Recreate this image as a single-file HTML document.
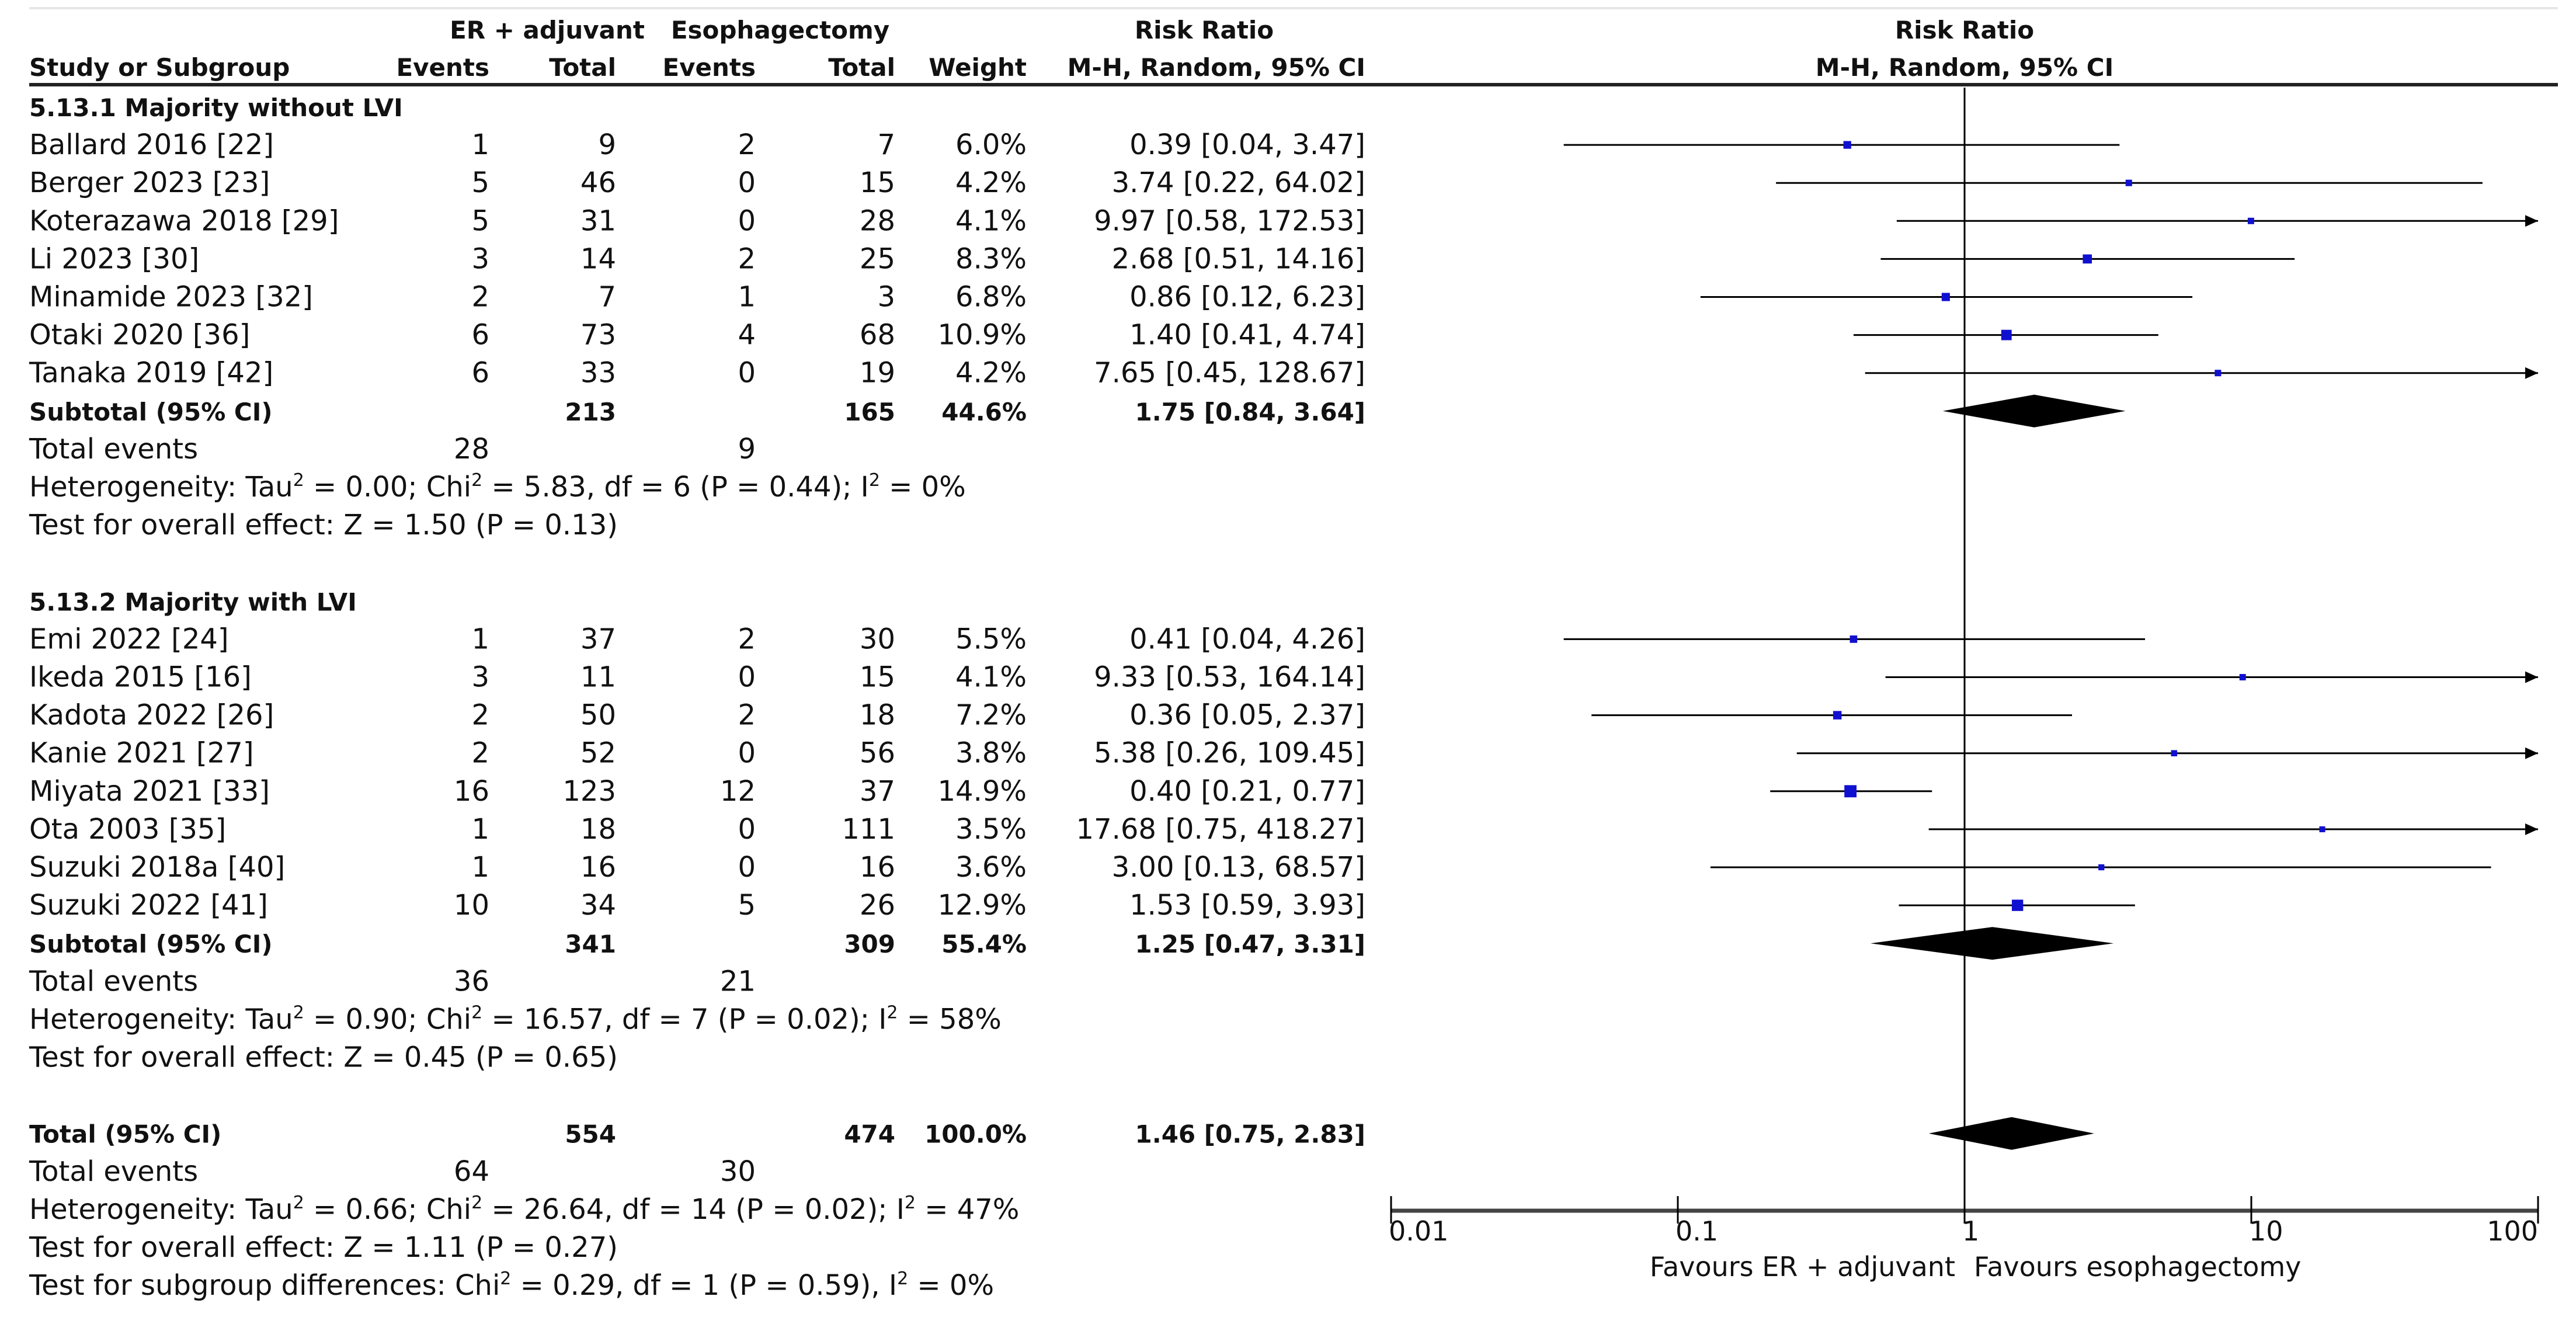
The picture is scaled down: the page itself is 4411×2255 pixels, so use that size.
<!DOCTYPE html>
<html><head><meta charset="utf-8"><style>
html,body{margin:0;padding:0;background:#fff;}
svg{display:block;font-family:"DejaVu Sans","Liberation Sans",sans-serif;}
</style></head><body>
<svg id="chart" width="4411" height="2255" viewBox="0 0 4411 2255" xmlns="http://www.w3.org/2000/svg">
<rect width="4411" height="2255" fill="#fff"/>
<line x1="50" y1="14" x2="4380" y2="14" stroke="#e6e6e6" stroke-width="4"/>
<g font-size="42" font-weight="bold" fill="#111">
<text x="937" y="66" text-anchor="middle">ER + adjuvant</text>
<text x="1336" y="66" text-anchor="middle">Esophagectomy</text>
<text x="2062" y="66" text-anchor="middle">Risk Ratio</text>
<text x="3364" y="66" text-anchor="middle">Risk Ratio</text>
<text x="50" y="130">Study or Subgroup</text>
<text x="838" y="130" text-anchor="end">Events</text>
<text x="1055" y="130" text-anchor="end">Total</text>
<text x="1294" y="130" text-anchor="end">Events</text>
<text x="1533" y="130" text-anchor="end">Total</text>
<text x="1758" y="130" text-anchor="end">Weight</text>
<text x="2338" y="130" text-anchor="end">M-H, Random, 95% CI</text>
<text x="3364" y="130" text-anchor="middle">M-H, Random, 95% CI</text>
</g>
<line x1="50" y1="145" x2="4380" y2="145" stroke="#222" stroke-width="6"/>
<g id="rows"></g>
<g id="plot"></g>
</svg>
<script>
const names1 = ["Ballard 2016 [22]","Berger 2023 [23]","Koterazawa 2018 [29]","Li 2023 [30]","Minamide 2023 [32]","Otaki 2020 [36]","Tanaka 2019 [42]"];
const ev1a = [1,5,5,3,2,6,6];
const tot1a = [9,46,31,14,7,73,33];
const ev2a = [2,0,0,2,1,4,0];
const tot2a = [7,15,28,25,3,68,19];
const wt1 = [6.0,4.2,4.1,8.3,6.8,10.9,4.2];
const rr1 = [0.39,3.74,9.97,2.68,0.86,1.40,7.65];
const lo1 = [0.04,0.22,0.58,0.51,0.12,0.41,0.45];
const hi1 = [3.47,64.02,172.53,14.16,6.23,4.74,128.67];

const names2 = ["Emi 2022 [24]","Ikeda 2015 [16]","Kadota 2022 [26]","Kanie 2021 [27]","Miyata 2021 [33]","Ota 2003 [35]","Suzuki 2018a [40]","Suzuki 2022 [41]"];
const ev1b = [1,3,2,2,16,1,1,10];
const tot1b = [37,11,50,52,123,18,16,34];
const ev2b = [2,0,2,0,12,0,0,5];
const tot2b = [30,15,18,56,37,111,16,26];
const wt2 = [5.5,4.1,7.2,3.8,14.9,3.5,3.6,12.9];
const rr2 = [0.41,9.33,0.36,5.38,0.40,17.68,3.00,1.53];
const lo2 = [0.04,0.53,0.05,0.26,0.21,0.75,0.13,0.59];
const hi2 = [4.26,164.14,2.37,109.45,0.77,418.27,68.57,3.93];

const subTot = [[213,165,44.6,1.75,0.84,3.64],[341,309,55.4,1.25,0.47,3.31]];
const overall = [554,474,100.0,1.46,0.75,2.83];
const totEvents = [[28,9],[36,21],[64,30]];
const hetText = [
 ["Heterogeneity: Tau","2"," = 0.00; Chi","2"," = 5.83, df = 6 (P = 0.44); I","2"," = 0%"],
 ["Heterogeneity: Tau","2"," = 0.90; Chi","2"," = 16.57, df = 7 (P = 0.02); I","2"," = 58%"],
 ["Heterogeneity: Tau","2"," = 0.66; Chi","2"," = 26.64, df = 14 (P = 0.02); I","2"," = 47%"]];
const testText = ["Test for overall effect: Z = 1.50 (P = 0.13)","Test for overall effect: Z = 0.45 (P = 0.65)","Test for overall effect: Z = 1.11 (P = 0.27)"];
const subgroupDiff = ["Test for subgroup differences: Chi","2"," = 0.29, df = 1 (P = 0.59), I","2"," = 0%"];
const groupTitles = ["5.13.1 Majority without LVI","5.13.2 Majority with LVI"];
const tickVals = [0.01,0.1,1,10,100];
const tickLabels = ["0.01","0.1","1","10","100"];

const NS="http://www.w3.org/2000/svg";
const rows=document.getElementById('rows'), plot=document.getElementById('plot');
const X0=3364, DEC=491, XMIN=0.01, XMAX=100;
function xs(v){return X0+Math.log10(v)*DEC;}
function ys(i){return 183+i*65.1;}
const cols=[838,1055,1294,1533,1758,2338];
function mk(tag,attrs,parent){const e=document.createElementNS(NS,tag);for(const k in attrs)e.setAttribute(k,attrs[k]);(parent||rows).appendChild(e);return e;}
function txt(x,y,s,anchor,bold,name){const t=mk('text',{x:x,y:y+16,'font-size':bold?42:48,fill:'#111','text-anchor':anchor||'start','font-weight':bold?'bold':'normal'});t.textContent=s;


return t;}
function supText(x,y,parts,name){const t=mk('text',{x:x,y:y+16,'font-size':48,fill:'#111'});


parts.forEach((p,k)=>{const s=document.createElementNS(NS,'tspan');s.textContent=p;if(k%2==1){s.setAttribute('font-size','30');s.setAttribute('dy','-18');}else if(k>0){s.setAttribute('dy','18');}t.appendChild(s);});}
function study(i,name,e1,t1,e2,t2,w,rr,lo,hi){
 const y=ys(i);
 txt(50,y,name,'start',false,'study-name');
 txt(cols[0],y,String(e1),'end',false,'events-er');
 txt(cols[1],y,String(t1),'end',false,'total-er');
 txt(cols[2],y,String(e2),'end',false,'events-esoph');
 txt(cols[3],y,String(t2),'end',false,'total-esoph');
 txt(cols[4],y,w.toFixed(1)+'%','end',false,'weight');
 txt(cols[5],y,rr.toFixed(2)+' ['+lo.toFixed(2)+', '+hi.toFixed(2)+']','end',false,'risk-ratio-ci');
 const x1=xs(Math.max(lo,XMIN)), x2=xs(Math.min(hi,XMAX));
 const l=mk('line',{x1:x1,y1:y,x2:x2,y2:y,stroke:'#000','stroke-width':3},plot);
 
 
 if(hi>XMAX){const a=mk('polygon',{points:(x2)+','+y+' '+(x2-22)+','+(y-10)+' '+(x2-22)+','+(y+10),fill:'#000'},plot);
 
 }
 const s=5.4*Math.sqrt(w);
 const r=mk('rect',{x:xs(rr)-s/2,y:y-s/2,width:s,height:s,fill:'#1010d0'},plot);
 
 
}
function diamond(y,rr,lo,hi){const h=28;const p=mk('polygon',{points:xs(lo)+','+y+' '+xs(rr)+','+(y-h)+' '+xs(hi)+','+y+' '+xs(rr)+','+(y+h),fill:'#000'},plot);

}
function summary(i,label,d){const y=ys(i);
 txt(50,y,label,'start',true,'subtotal-label');
 txt(cols[1],y,String(d[0]),'end',true,'subtotal-total-er');
 txt(cols[3],y,String(d[1]),'end',true,'subtotal-total-esoph');
 txt(cols[4],y,d[2].toFixed(1)+'%','end',true,'subtotal-weight');
 txt(cols[5],y,d[3].toFixed(2)+' ['+d[4].toFixed(2)+', '+d[5].toFixed(2)+']','end',true,'subtotal-ci');
 diamond(y,d[3],d[4],d[5]);}
function footer(i,g){txt(50,ys(i),'Total events','start',false,'total-events-label');
 txt(cols[0],ys(i),String(totEvents[g][0]),'end',false,'total-events-er');
 txt(cols[2],ys(i),String(totEvents[g][1]),'end',false,'total-events-esoph');
 supText(50,ys(i+1),hetText[g],'heterogeneity');
 txt(50,ys(i+2),testText[g],'start',false,'overall-effect-test');}

txt(50,ys(0),groupTitles[0],'start',true,'subgroup-title');
names1.forEach((n,k)=>study(1+k,n,ev1a[k],tot1a[k],ev2a[k],tot2a[k],wt1[k],rr1[k],lo1[k],hi1[k]));
summary(8,'Subtotal (95% CI)',subTot[0]); footer(9,0);
txt(50,ys(13),groupTitles[1],'start',true,'subgroup-title');
names2.forEach((n,k)=>study(14+k,n,ev1b[k],tot1b[k],ev2b[k],tot2b[k],wt2[k],rr2[k],lo2[k],hi2[k]));
summary(22,'Subtotal (95% CI)',subTot[1]); footer(23,1);
summary(27,'Total (95% CI)',overall); footer(28,2);
supText(50,ys(31),subgroupDiff,'subgroup-differences');

const AY=2073;
const nl=mk('line',{x1:X0,y1:150,x2:X0,y2:AY,stroke:'#000','stroke-width':3},plot);


const ax=mk('line',{x1:xs(XMIN),y1:AY,x2:xs(XMAX),y2:AY,stroke:'#444','stroke-width':7},plot);


tickVals.forEach((v,k)=>{const x=xs(v);
 const t=mk('line',{x1:x,y1:AY-25,x2:x,y2:AY+22,stroke:'#000','stroke-width':3},plot);
 
 
 const lb=mk('text',{x:k==tickVals.length-1?x:x-4,y:2124,'font-size':46,fill:'#111','text-anchor':k==tickVals.length-1?'end':'start'},plot);
 lb.textContent=tickLabels[k];
 
 });
const f1=mk('text',{x:X0-16,y:2185,'font-size':46,fill:'#111','text-anchor':'end'},plot);f1.textContent='Favours ER + adjuvant';


const f2=mk('text',{x:X0+16,y:2185,'font-size':46,fill:'#111'},plot);f2.textContent='Favours esophagectomy';


</script>
</body></html>
